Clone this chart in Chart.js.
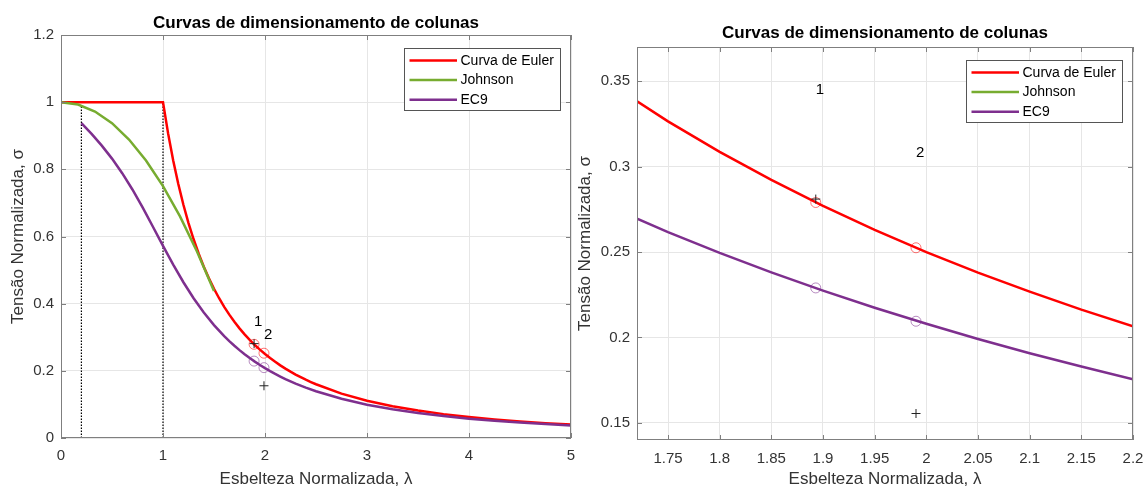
<!DOCTYPE html>
<html><head><meta charset="utf-8">
<script src="https://cdn.jsdelivr.net/npm/chart.js@4.4.1/dist/chart.umd.min.js"></script>
<style>
html,body{margin:0;padding:0;background:#fff;overflow:hidden;width:1144px;height:486px;position:relative;}
#wl{position:absolute;left:0;top:0;width:590px;height:486px;}
#wr{position:absolute;left:570px;top:0;width:600px;height:486px;}
canvas{display:block;}
</style></head><body>
<div id="wl"><canvas id="cl" width="590" height="486"></canvas></div>
<div id="wr"><canvas id="cr" width="600" height="486"></canvas></div>
<script>
// ---------- data ----------
const chartTitle = 'Curvas de dimensionamento de colunas';
const xAxisTitle = 'Esbelteza Normalizada, λ';
const yAxisTitle = 'Tensão Normalizada, σ';
const seriesNames = ['Curva de Euler', 'Johnson', 'EC9'];
const seriesColors = ['#ff0000', '#77ac30', '#7e2f8e'];

const eulerLambda = [0, 1, 1.05, 1.1, 1.15, 1.2, 1.25, 1.3, 1.35, 1.4, 1.45, 1.5, 1.55, 1.6, 1.65, 1.7, 1.75, 1.8, 1.85, 1.9, 1.95, 2, 2.05, 2.1, 2.15, 2.2, 2.25, 2.3, 2.35, 2.4, 2.45, 2.5, 2.75, 3, 3.25, 3.5, 3.75, 4, 4.25, 4.5, 4.75, 5];
const eulerSigma = [1, 1, 0.907, 0.8264, 0.7561, 0.6944, 0.64, 0.5917, 0.5487, 0.5102, 0.4756, 0.4444, 0.4162, 0.3906, 0.3673, 0.346, 0.3265, 0.3086, 0.2922, 0.277, 0.263, 0.25, 0.238, 0.2268, 0.2163, 0.2066, 0.1975, 0.189, 0.1811, 0.1736, 0.1666, 0.16, 0.1322, 0.1111, 0.0947, 0.0816, 0.0711, 0.0625, 0.0554, 0.0494, 0.0443, 0.04];

const johnsonLambda = [0, 0.1667, 0.3333, 0.5, 0.6667, 0.8333, 1, 1.1667, 1.3333, 1.5];
const johnsonSigma = [1, 0.9931, 0.9722, 0.9375, 0.8889, 0.8264, 0.75, 0.6597, 0.5556, 0.4375];

const ec9Lambda = [0.2, 0.3, 0.4, 0.5, 0.6, 0.7, 0.8, 0.9, 1, 1.1, 1.2, 1.3, 1.4, 1.5, 1.6, 1.65, 1.7, 1.75, 1.8, 1.85, 1.9, 1.95, 2, 2.05, 2.1, 2.15, 2.2, 2.25, 2.3, 2.4, 2.5, 2.75, 3, 3.25, 3.5, 3.75, 4, 4.25, 4.5, 4.75, 5];
const ec9Sigma = [0.9377, 0.9054, 0.8705, 0.8319, 0.7886, 0.74, 0.6865, 0.6298, 0.5721, 0.5161, 0.4638, 0.4162, 0.3738, 0.3363, 0.3035, 0.2886, 0.2747, 0.2617, 0.2495, 0.2381, 0.2274, 0.2174, 0.208, 0.1991, 0.1908, 0.183, 0.1756, 0.1687, 0.1621, 0.1501, 0.1393, 0.1168, 0.0993, 0.0855, 0.0743, 0.0652, 0.0576, 0.0513, 0.046, 0.0414, 0.0375];

const limitLambda = [0.2, 1];
const limitTop = [0.99, 1];

const pointLambda = [1.893, 1.99];
const pointEuler = [0.279, 0.2525];
const pointEc9 = [0.229, 0.2095];
const crossSigma = [0.281, 0.1555];

const labelText = ['1', '2'];
const labelLambda = [1.893, 1.99];
const labelSigma = [0.345, 0.308];

const leftXTicks = [0, 1, 2, 3, 4, 5];
const leftYTicks = [0, 0.2, 0.4, 0.6, 0.8, 1, 1.2];
const rightXTicks = [1.75, 1.8, 1.85, 1.9, 1.95, 2, 2.05, 2.1, 2.15, 2.2];
const rightYTicks = [0.15, 0.2, 0.25, 0.3, 0.35];

// ---------- helpers ----------
const FONT = '"Liberation Sans", Arial, Helvetica, sans-serif';
const pts = (xs, ys) => xs.map((v, i) => ({x: v, y: ys[i]}));
const fmt = v => String(parseFloat(Number(v).toFixed(4)));

const decor = {
  id: 'decor',
  afterDatasetsDraw(chart) {
    const {ctx, chartArea: a, scales: {x, y}} = chart;
    ctx.save();
    ctx.font = '15px ' + FONT;
    ctx.fillStyle = '#000';
    ctx.textAlign = 'left';
    ctx.textBaseline = 'middle';
    labelText.forEach((t, i) => {
      const px = x.getPixelForValue(labelLambda[i]);
      const py = y.getPixelForValue(labelSigma[i]);
      if (px >= a.left && px <= a.right && py >= a.top && py <= a.bottom) ctx.fillText(t, px, py);
    });
    ctx.restore();
  },
  afterDraw(chart, args, o) {
    const {ctx, chartArea: a, scales: {x, y}} = chart;
    ctx.save();
    ctx.strokeStyle = '#7f7f7f';
    ctx.lineWidth = 1;
    ctx.strokeRect(a.left + 0.5, a.top + 0.5, a.right - a.left - 1, a.bottom - a.top - 1);
    const tl = 5;
    ctx.beginPath();
    o.xTicks.forEach(v => {
      const px = Math.round(x.getPixelForValue(v)) + 0.5;
      ctx.moveTo(px, a.bottom); ctx.lineTo(px, a.bottom - tl);
      ctx.moveTo(px, a.top); ctx.lineTo(px, a.top + tl);
    });
    o.yTicks.forEach(v => {
      const py = Math.round(y.getPixelForValue(v)) + 0.5;
      ctx.moveTo(a.left, py); ctx.lineTo(a.left + tl, py);
      ctx.moveTo(a.right, py); ctx.lineTo(a.right - tl, py);
    });
    ctx.stroke();
    ctx.font = 'bold 17px ' + FONT;
    ctx.fillStyle = '#000';
    ctx.textAlign = 'center';
    ctx.textBaseline = 'middle';
    ctx.fillText(chartTitle, (a.left + a.right) / 2, o.titleY);
    const L = o.legend;
    const x0 = Math.round(a.right - L.right - L.w) + 0.5;
    const y0 = Math.round(a.top + L.top) + 0.5;
    ctx.fillStyle = '#fff';
    ctx.fillRect(x0, y0, L.w, L.h);
    ctx.strokeStyle = '#555';
    ctx.lineWidth = 1;
    ctx.strokeRect(x0, y0, L.w, L.h);
    ctx.font = '14px ' + FONT;
    ctx.textAlign = 'left';
    seriesNames.forEach((n, i) => {
      const ry = y0 + 12 + i * 19.6;
      ctx.strokeStyle = seriesColors[i];
      ctx.lineWidth = 2.5;
      ctx.beginPath();
      ctx.moveTo(x0 + 5, ry); ctx.lineTo(x0 + 52.5, ry);
      ctx.stroke();
      ctx.fillStyle = '#000';
      ctx.fillText(n, x0 + 56, ry + 0.5);
    });
    ctx.restore();
  }
};

function build(id, g) {
  const tickFont = {family: FONT, size: 15};
  const titleFont = {family: FONT, size: 17, lineHeight: 1.2};
  return new Chart(document.getElementById(id), {
    type: 'scatter',
    data: {
      datasets: [
        {label: 'c1', data: pts(pointLambda, pointEuler), showLine: false, pointStyle: 'circle', pointRadius: 5, borderColor: 'rgba(255,0,0,0.55)', backgroundColor: 'rgba(0,0,0,0)', borderWidth: 1, order: 1},
        {label: 'c2', data: pts(pointLambda, pointEc9), showLine: false, pointStyle: 'circle', pointRadius: 5, borderColor: 'rgba(126,47,142,0.55)', backgroundColor: 'rgba(0,0,0,0)', borderWidth: 1, order: 1},
        {label: 'p', data: pts(pointLambda, crossSigma), showLine: false, pointStyle: 'cross', pointRadius: 4.5, borderColor: '#222', borderWidth: 1, order: 0},
        {label: seriesNames[2], data: pts(ec9Lambda, ec9Sigma), showLine: true, borderColor: seriesColors[2], borderWidth: 2.5, pointRadius: 0, order: 3},
        {label: seriesNames[1], data: pts(johnsonLambda, johnsonSigma), showLine: true, borderColor: seriesColors[1], borderWidth: 2.5, pointRadius: 0, order: 4},
        {label: seriesNames[0], data: pts(eulerLambda, eulerSigma), showLine: true, borderColor: seriesColors[0], borderWidth: 2.5, pointRadius: 0, order: 5},
        {label: 'v1', data: [{x: limitLambda[0], y: 0}, {x: limitLambda[0], y: limitTop[0]}], showLine: true, borderColor: '#000', borderWidth: 1.2, borderDash: [1.5, 1.5], pointRadius: 0, order: 6},
        {label: 'v2', data: [{x: limitLambda[1], y: 0}, {x: limitLambda[1], y: limitTop[1]}], showLine: true, borderColor: '#000', borderWidth: 1.2, borderDash: [1.5, 1.5], pointRadius: 0, order: 6}
      ]
    },
    options: {
      responsive: false, animation: false, devicePixelRatio: 1,
      layout: {padding: {left: 0, right: g.padRight, top: g.top, bottom: 0}},
      plugins: {
        legend: {display: false}, tooltip: {enabled: false}, title: {display: false},
        decor: {xTicks: g.xTicks, yTicks: g.yTicks, titleY: g.titleY, legend: {right: 11.4, top: 13, w: 156, h: 62}}
      },
      scales: {
        x: {
          type: 'linear', min: g.xMin, max: g.xMax,
          afterBuildTicks: s => { s.ticks = g.xTicks.map(v => ({value: v})); },
          afterFit: s => { s.height = g.xHeight; },
          grid: {color: '#e6e6e6', drawTicks: false},
          border: {display: false},
          ticks: {padding: g.xTickPad, color: '#333', font: tickFont, autoSkip: false, maxRotation: 0, callback: v => fmt(v)},
          title: {display: true, text: xAxisTitle, color: '#333', font: {family: FONT, size: 17, lineHeight: 0.8}, padding: 0}
        },
        y: {
          type: 'linear', min: g.yMin, max: g.yMax,
          afterBuildTicks: s => { s.ticks = g.yTicks.map(v => ({value: v})); },
          afterFit: s => { s.width = g.yWidth; },
          grid: {color: '#e6e6e6', drawTicks: false},
          border: {display: false},
          ticks: {padding: 7, color: '#333', font: tickFont, autoSkip: false, callback: v => fmt(v)},
          title: {display: true, text: yAxisTitle, color: '#333', font: titleFont, padding: {top: g.yTitlePad, bottom: 0}}
        }
      }
    },
    plugins: [decor]
  });
}

build('cl', {xMin: 0, xMax: 5, yMin: 0, yMax: 1.2, xTicks: leftXTicks, yTicks: leftYTicks,
  padRight: 19, top: 35, xHeight: 48, yWidth: 61, yTitlePad: 8, titleY: 23, xTickPad: 9});
build('cr', {xMin: 1.72, xMax: 2.2, yMin: 0.14, yMax: 0.37, xTicks: rightXTicks, yTicks: rightYTicks,
  padRight: 37, top: 47, xHeight: 46, yWidth: 67, yTitlePad: 5, titleY: 33.5, xTickPad: 10});
</script>
</body></html>
